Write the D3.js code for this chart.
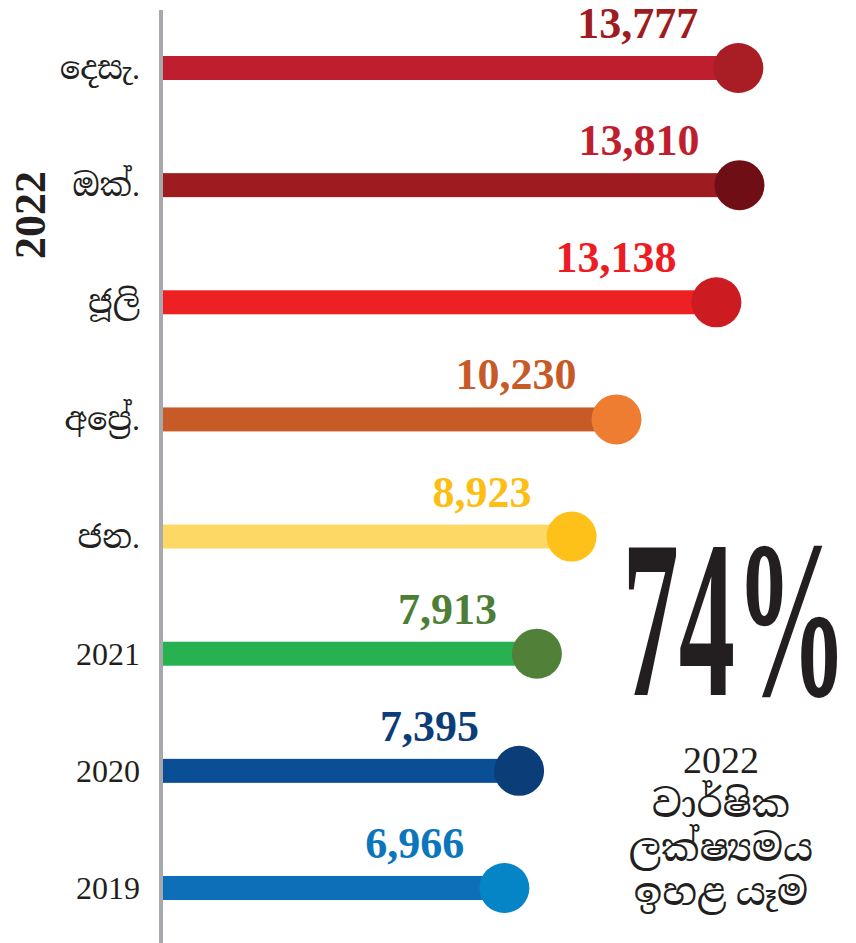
<!DOCTYPE html>
<html lang="si">
  <head>
    <meta charset="UTF-8" />
    <title>2022 වාර්ෂික ලක්ෂ්‍යමය</title>
    <script src="https://d3js.org/d3.v7.min.js"></script>
    <style>
      html, body { margin: 0; padding: 0; background: #fff; }
      text { font-family: "Liberation Serif", "Noto Serif Sinhala", "Noto Sans Sinhala", serif; }
    </style>
  </head>
  <body>
    <div id="chart"></div>
    <script>
      // data
      const categories = ["දෙසැ.", "ඔක්.", "ජූලි", "අප්‍රේ.", "ජන.", "2021", "2020", "2019"];
      const values = [13777, 13810, 13138, 10230, 8923, 7913, 7395, 6966];
      const stemColors = ["#be1e2d", "#9e1b20", "#ed2024", "#c75b27", "#fdd865", "#27b151", "#0a4f95", "#0c6fb7"];
      const dotColors = ["#a81e24", "#6f0e14", "#cc1c22", "#ee7d31", "#fdc119", "#518139", "#0b3d78", "#0685c6"];
      const labelColors = ["#9e1b20", "#be1e2d", "#ed1c24", "#c75b27", "#fdbe14", "#4e7e36", "#0b3d78", "#0c76bc"];
      const groupLabel = "2022";
      const bigNumber = "74%";
      const noteLines = ["2022", "වාර්ෂික", "ලක්ෂ්‍යමය", "ඉහළ යෑම"];

      const width = 856, height = 943;
      const left = 162;

      const svg = d3.select("#chart").append("svg")
        .attr("width", width)
        .attr("height", height);

      const x = d3.scaleLinear().domain([-3000, 14000]).range([left, 746]);
      const y = d3.scalePoint().domain(categories).range([68, 888]);

      const rows = categories.map((c, i) => ({ c, v: values[i], i }));

      // stems
      svg.selectAll(".stem").data(rows).enter().append("rect")
        .attr("class", "stem")
        .attr("x", left)
        .attr("y", d => y(d.c) - 12)
        .attr("width", d => x(d.v) - left)
        .attr("height", 24)
        .attr("fill", d => stemColors[d.i]);

      // dots
      svg.selectAll(".dot").data(rows).enter().append("circle")
        .attr("class", "dot")
        .attr("cx", d => x(d.v))
        .attr("cy", d => y(d.c))
        .attr("r", 25)
        .attr("fill", d => dotColors[d.i]);

      // value labels
      svg.selectAll(".val").data(rows).enter().append("text")
        .attr("class", "val")
        .attr("x", d => x(d.v) - 40)
        .attr("y", d => y(d.c) - 30)
        .attr("text-anchor", "end")
        .attr("font-size", 44)
        .attr("font-weight", "bold")
        .attr("fill", d => labelColors[d.i])
        .text(d => d3.format(",")(d.v));

      // axis line
      svg.append("line")
        .attr("x1", 161).attr("x2", 161)
        .attr("y1", 10).attr("y2", height)
        .attr("stroke", "#a7a9ac")
        .attr("stroke-width", 4);

      // category labels
      svg.selectAll(".cat").data(rows).enter().append("text")
        .attr("class", "cat")
        .attr("x", 140)
        .attr("y", d => y(d.c) + 11)
        .attr("text-anchor", "end")
        .attr("font-size", 32)
        .attr("fill", "#231f20")
        .text(d => d.c);

      // 2022 group label
      svg.append("text")
        .attr("transform", "translate(45,215) rotate(-90)")
        .attr("text-anchor", "middle")
        .attr("font-size", 44)
        .attr("font-weight", "bold")
        .attr("fill", "#231f20")
        .text(groupLabel);

      // big percentage
      svg.append("text")
        .attr("transform", "translate(735,695) scale(0.5,1)")
        .attr("text-anchor", "middle")
        .attr("font-size", 225)
        .attr("font-weight", "bold")
        .attr("fill", "#231f20")
        .text(bigNumber);

      // note
      svg.selectAll(".note").data(noteLines).enter().append("text")
        .attr("class", "note")
        .attr("x", 721)
        .attr("y", (d, i) => 773 + i * 44)
        .attr("text-anchor", "middle")
        .attr("font-size", 38)
        .attr("fill", "#231f20")
        .text(d => d);
    </script>
  </body>
</html>
